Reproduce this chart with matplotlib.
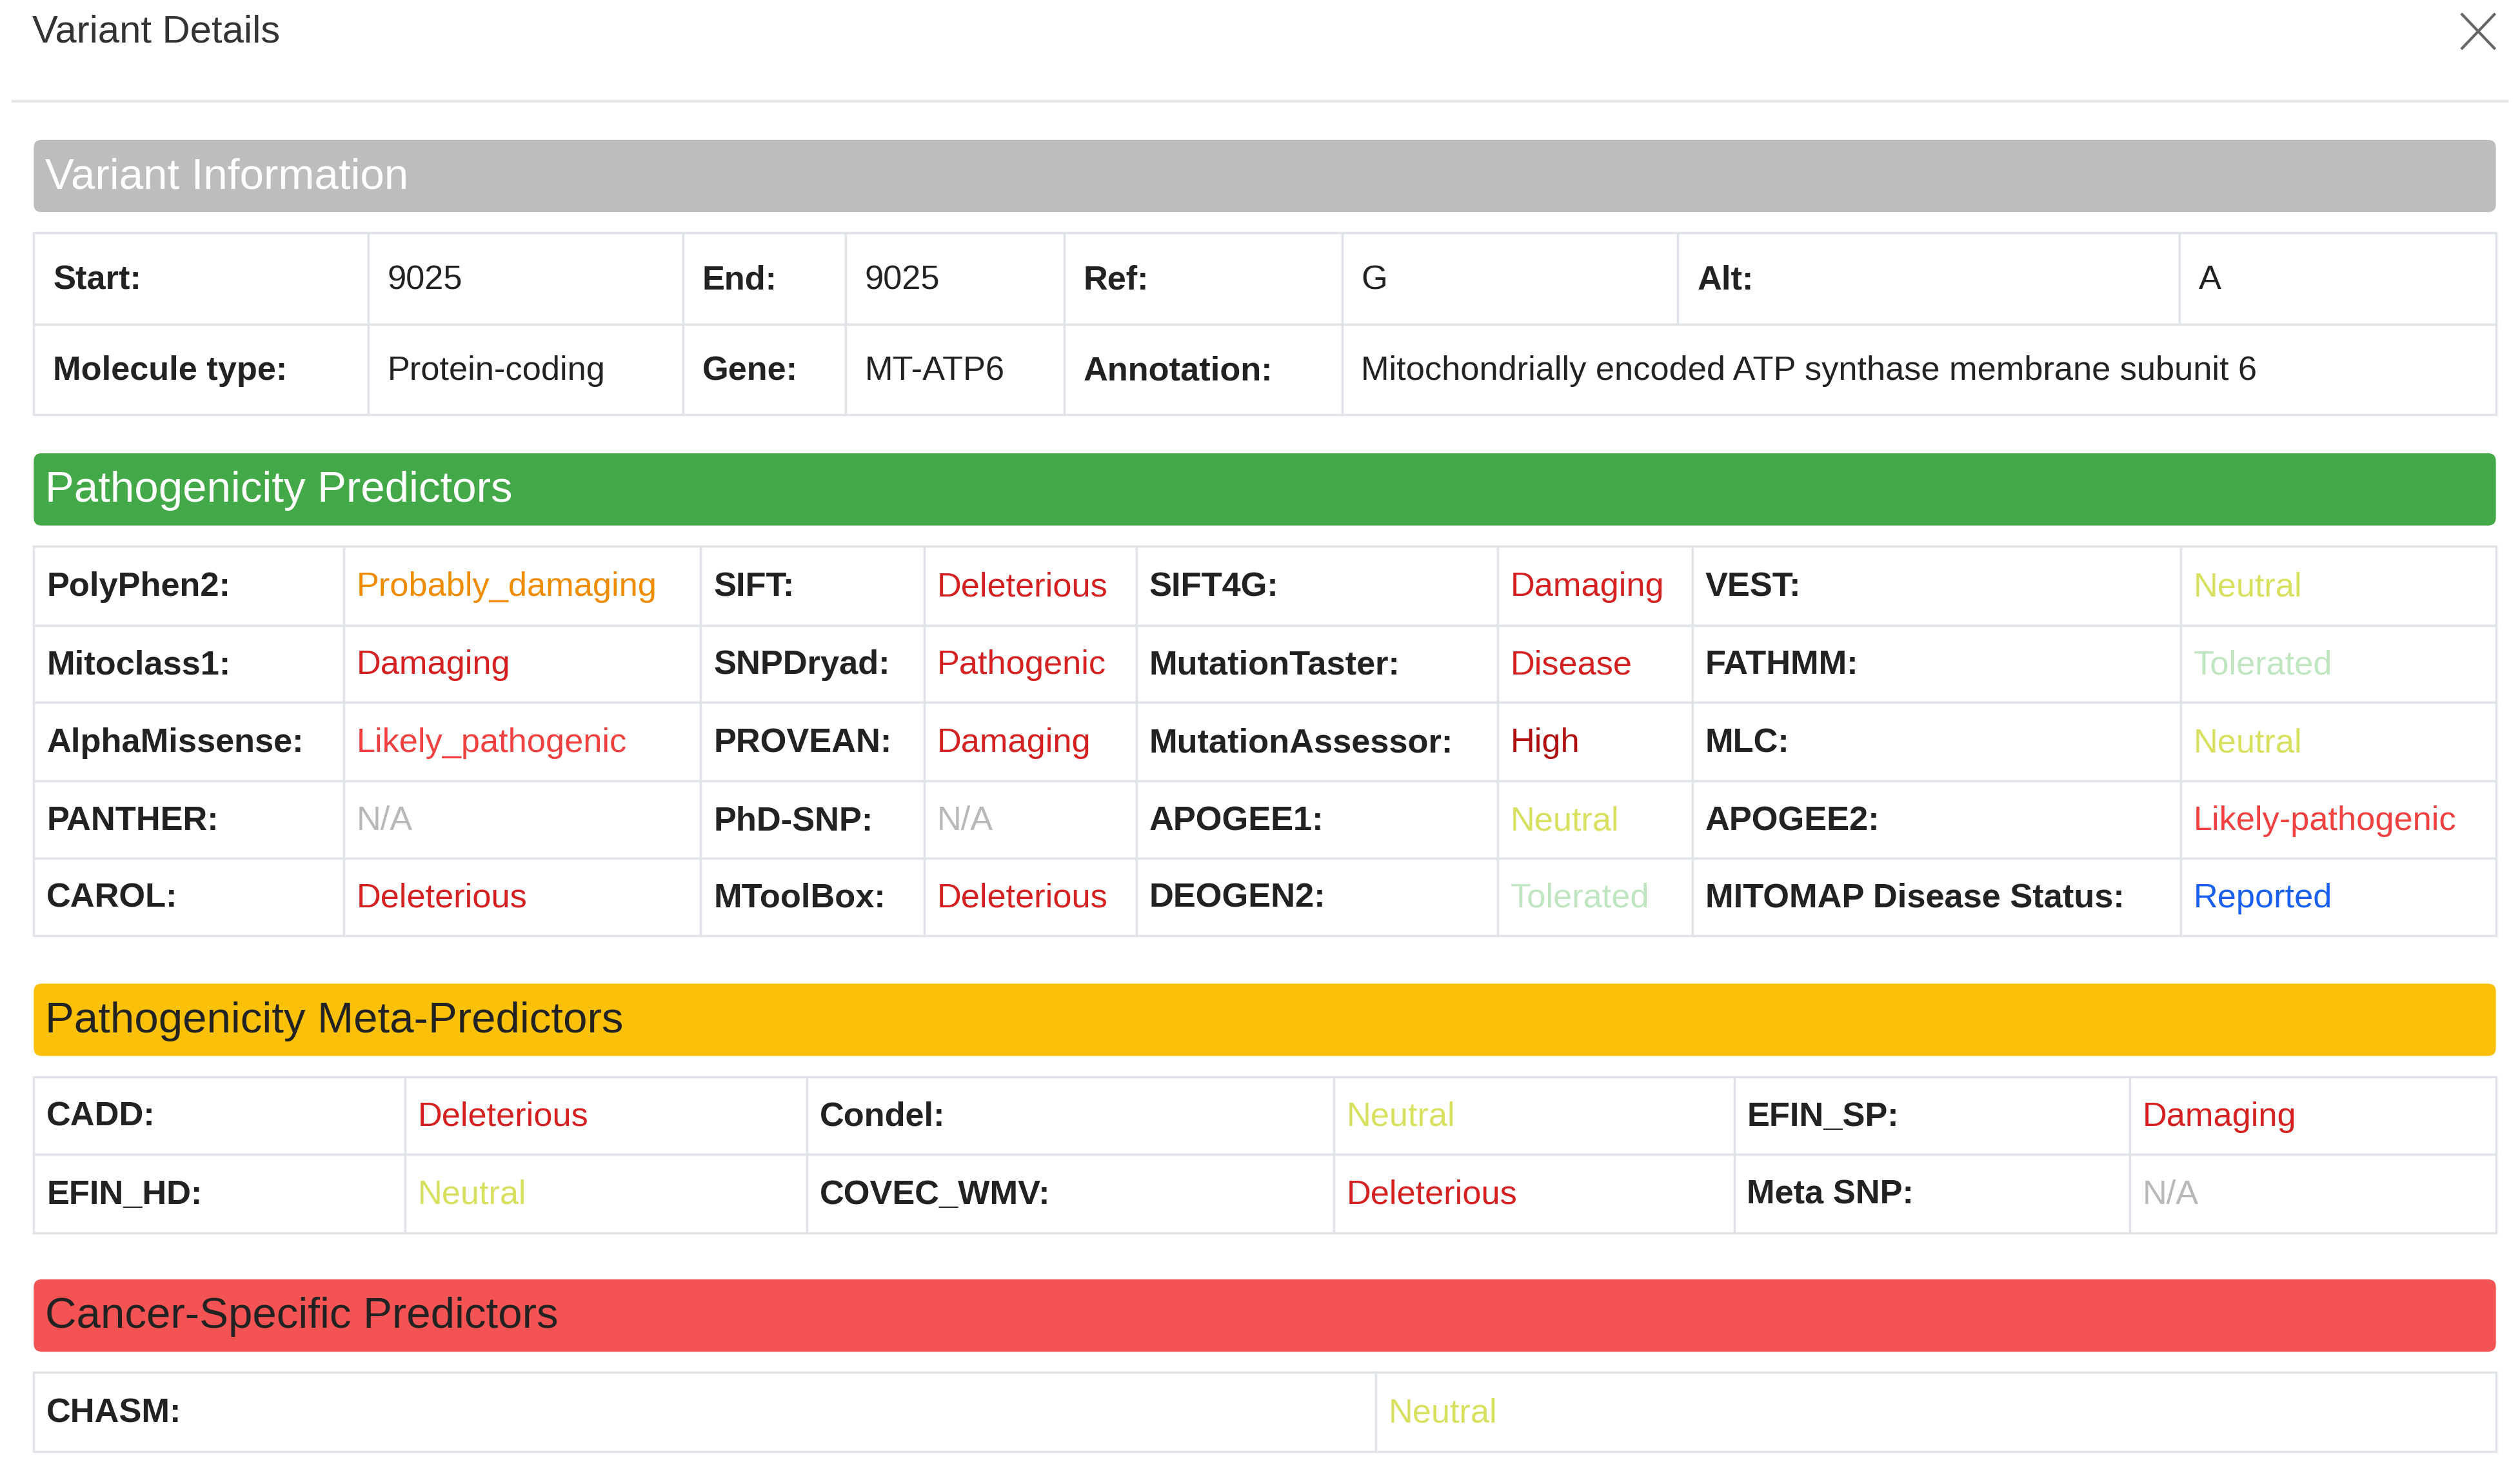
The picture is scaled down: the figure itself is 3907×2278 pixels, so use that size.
import matplotlib
matplotlib.use("Agg")
import matplotlib.pyplot as plt
from matplotlib.patches import Rectangle, FancyBboxPatch

W, H = 1568, 914
S = 3907 / W
def pt(px): return px * S * 72 / 100

RED = "#d42020"; RED2 = "#f04040"; DRED = "#b01010"; ORG = "#f08c00"
NEU = "#d8e060"; TOL = "#bfe6c0"; NA = "#b8b8b8"; BLUE = "#1a60f0"; BLK = "#222222"

title = "Variant Details"
sec_titles = ["Variant Information", "Pathogenicity Predictors", "Pathogenicity Meta-Predictors", "Cancer-Specific Predictors"]
sec_colors = ["#bdbdbd", "#43a847", "#fbc108", "#f35352"]
sec_text_colors = ["white", "white", "#222222", "#222222"]

# Variant information
info_row1 = [("Start:", "9025"), ("End:", "9025"), ("Ref:", "G"), ("Alt:", "A")]
info_row2 = [("Molecule type:", "Protein-coding"), ("Gene:", "MT-ATP6"),
             ("Annotation:", "Mitochondrially encoded ATP synthase membrane subunit 6")]

pred_labels = [["PolyPhen2:", "SIFT:", "SIFT4G:", "VEST:"],
               ["Mitoclass1:", "SNPDryad:", "MutationTaster:", "FATHMM:"],
               ["AlphaMissense:", "PROVEAN:", "MutationAssessor:", "MLC:"],
               ["PANTHER:", "PhD-SNP:", "APOGEE1:", "APOGEE2:"],
               ["CAROL:", "MToolBox:", "DEOGEN2:", "MITOMAP Disease Status:"]]
pred_values = [["Probably_damaging", "Deleterious", "Damaging", "Neutral"],
               ["Damaging", "Pathogenic", "Disease", "Tolerated"],
               ["Likely_pathogenic", "Damaging", "High", "Neutral"],
               ["N/A", "N/A", "Neutral", "Likely-pathogenic"],
               ["Deleterious", "Deleterious", "Tolerated", "Reported"]]
pred_colors = [[ORG, RED, RED, NEU],
               [RED, RED, RED, TOL],
               [RED2, RED, DRED, NEU],
               [NA, NA, NEU, RED2],
               [RED, RED, TOL, BLUE]]

meta_labels = [["CADD:", "Condel:", "EFIN_SP:"], ["EFIN_HD:", "COVEC_WMV:", "Meta SNP:"]]
meta_values = [["Deleterious", "Neutral", "Damaging"], ["Neutral", "Deleterious", "N/A"]]
meta_colors = [[RED, NEU, RED], [NEU, RED, NA]]

cancer_labels = ["CHASM:"]
cancer_values = ["Neutral"]
cancer_colors = [NEU]

fig = plt.figure(figsize=(39.07, 22.78), dpi=100)
ax = fig.add_axes([0, 0, 1, 1])
ax.set_xlim(0, W); ax.set_ylim(H, 0); ax.axis("off")
FONT = "Liberation Sans"
BORDER = "#e0e3e8"
FS = pt(21)

ax.text(20, 20, title, fontsize=pt(24), family=FONT, color="#333333", va="center")
ax.plot([1532, 1552], [9, 30], color="#666666", lw=3)
ax.plot([1532, 1552], [30, 9], color="#666666", lw=3)
ax.plot([8, 1560], [63, 63], color="#e6e6e6", lw=3)

def header(y0, y1, i):
    ax.add_patch(FancyBboxPatch((21, y0), 1532, y1 - y0, boxstyle="round,pad=0,rounding_size=5",
                                fc=sec_colors[i], ec="none"))
    ax.text(28, (y0 + y1) / 2 + 1, sec_titles[i], fontsize=pt(27), family=FONT,
            color=sec_text_colors[i], va="center")

def cell(x0, x1, y0, y1, txt, color, bold, pad):
    ax.add_patch(Rectangle((x0, y0), x1 - x0, y1 - y0, fc="white", ec=BORDER, lw=2.5))
    ax.text(x0 + pad, (y0 + y1) / 2 + 1, txt, fontsize=FS, family=FONT, color=color,
            fontweight="bold" if bold else "normal", va="center")

# Section 1
header(87, 132, 0)
cols1 = [21, 229, 425, 526, 662, 835, 1044, 1356, 1553]
ys1 = [145, 202, 258]
for j, (l, v) in enumerate(info_row1):
    cell(cols1[2*j], cols1[2*j+1], ys1[0], ys1[1], l, BLK, True, 12)
    cell(cols1[2*j+1], cols1[2*j+2], ys1[0], ys1[1], v, BLK, False, 12)
for j, (l, v) in enumerate(info_row2):
    right = cols1[2*j+2] if j < 2 else cols1[-1]
    cell(cols1[2*j], cols1[2*j+1], ys1[1], ys1[2], l, BLK, True, 12)
    cell(cols1[2*j+1], right, ys1[1], ys1[2], v, BLK, False, 12)

# Section 2
header(282, 327, 1)
cols2 = [21, 214, 436, 575, 707, 932, 1053, 1357, 1553]
ys2 = [340, 389, 437, 486, 534, 582]
for r in range(len(pred_labels)):
    for j in range(4):
        cell(cols2[2*j], cols2[2*j+1], ys2[r], ys2[r+1], pred_labels[r][j], BLK, True, 8)
        cell(cols2[2*j+1], cols2[2*j+2], ys2[r], ys2[r+1], pred_values[r][j], pred_colors[r][j], False, 8)

# Section 3
header(612, 657, 2)
cols3 = [21, 252, 502, 830, 1079, 1325, 1553]
ys3 = [670, 718, 767]
for r in range(len(meta_labels)):
    for j in range(3):
        cell(cols3[2*j], cols3[2*j+1], ys3[r], ys3[r+1], meta_labels[r][j], BLK, True, 8)
        cell(cols3[2*j+1], cols3[2*j+2], ys3[r], ys3[r+1], meta_values[r][j], meta_colors[r][j], False, 8)

# Section 4
header(796, 841, 3)
cols4 = [21, 856, 1553]
ys4 = [854, 903]
for r in range(len(cancer_labels)):
    cell(cols4[0], cols4[1], ys4[r], ys4[r+1], cancer_labels[r], BLK, True, 8)
    cell(cols4[1], cols4[2], ys4[r], ys4[r+1], cancer_values[r], cancer_colors[r], False, 8)

fig.savefig("out.png", dpi=100, facecolor="white")
